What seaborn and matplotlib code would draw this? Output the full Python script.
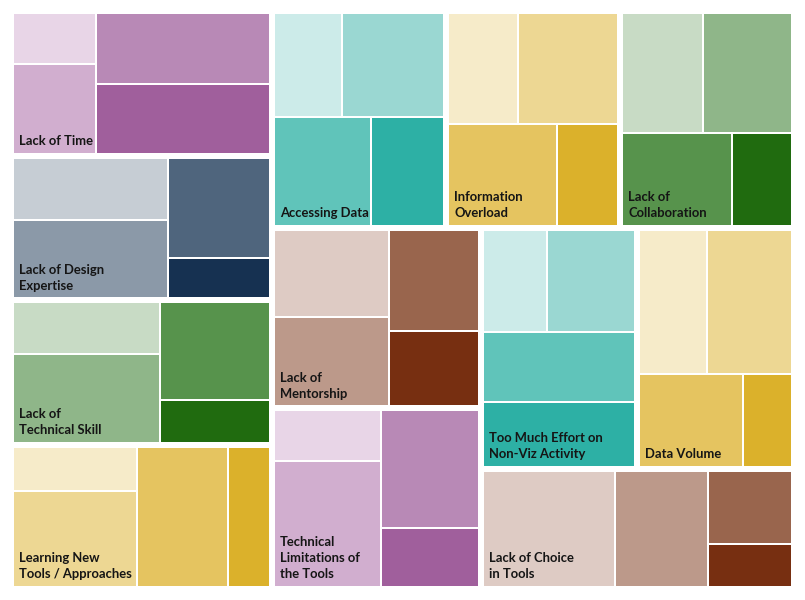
import matplotlib.pyplot as plt
from matplotlib.patches import Rectangle
import seaborn as sns

# Barriers (one tile group each), in the order they were laid out
barriers = [
    "Lack of Time", "Lack of Design\nExpertise", "Lack of\nTechnical Skill",
    "Learning New\nTools / Approaches", "Accessing Data", "Information\nOverload",
    "Lack of\nCollaboration", "Lack of\nMentorship", "Technical\nLimitations of\nthe Tools",
    "Too Much Effort on\nNon-Viz Activity", "Data Volume", "Lack of Choice\nin Tools",
]

# Share of responses (%) per level, lightest shade to darkest
level1 = [11.7, 26.7, 21.2, 15.3, 19.5, 21.4, 26.8, 27.8, 15.0, 18.1, 27.0, 42.8]
level2 = [20.6, 33.5, 36.0, 33.0, 29.3, 30.7, 29.5, 28.4, 37.3, 25.0, 33.9, 30.1]
level3 = [34.1, 28.4, 29.8, 35.4, 29.2, 30.7, 28.3, 25.1, 31.8, 29.6, 26.6, 17.1]
level4 = [33.6, 11.4, 13.0, 16.3, 22.0, 17.2, 15.4, 18.7, 15.9, 27.3, 12.5, 10.0]

group_palette = ["purple", "slate", "green", "gold", "teal", "gold",
                 "green", "brown", "purple", "teal", "gold", "brown"]

shades = {
    "purple": ["#E8D5E7", "#D1AECF", "#B889B6", "#A05F9C"],
    "slate": ["#C6CDD4", "#8B99A8", "#4F657D", "#163151"],
    "green": ["#C8DBC5", "#8FB689", "#57934C", "#206B0F"],
    "gold": ["#F6EBC9", "#EDD793", "#E5C460", "#DBB12B"],
    "teal": ["#CCEBE9", "#9AD7D2", "#60C4BA", "#2DB0A5"],
    "brown": ["#DECBC4", "#BC998A", "#99654D", "#772F11"],
}

PHI = (1 + 5 ** 0.5) / 2


def squarify(values, x0, y0, x1, y1, ratio=PHI):
    # same rules as d3.treemapSquarify (no sorting)
    rects = []
    n = len(values)
    total = sum(values)
    i0 = i1 = 0
    while i0 < n:
        dx, dy = x1 - x0, y1 - y0
        s = values[i1]
        i1 += 1
        lo = hi = s
        alpha = max(dy / dx, dx / dy) / (total * ratio)
        beta = s * s * alpha
        best = max(hi / beta, beta / lo)
        while i1 < n:
            v = values[i1]
            s2 = s + v
            lo2, hi2 = min(lo, v), max(hi, v)
            beta = s2 * s2 * alpha
            r = max(hi2 / beta, beta / lo2)
            if r > best:
                break
            s, lo, hi, best = s2, lo2, hi2, r
            i1 += 1
        row = values[i0:i1]
        if dx < dy:
            h = dy * s / total
            xx = x0
            for v in row:
                w = dx * v / s
                rects.append((xx, y0, xx + w, y0 + h))
                xx += w
            y0 += h
        else:
            w = dx * s / total
            yy = y0
            for v in row:
                h = dy * v / s
                rects.append((x0, yy, x0 + w, yy + h))
                yy += h
            x0 += w
        total -= s
        i0 = i1
    return rects


sns.set_theme(style="white")
plt.rcParams["font.family"] = ["Lato", "DejaVu Sans"]

fig = plt.figure(figsize=(8.05, 6.0), dpi=100)
ax = fig.add_axes([0, 0, 1, 1])
ax.set_xlim(0, 805)
ax.set_ylim(600, 0)
ax.axis("off")

groups = [list(v) for v in zip(level1, level2, level3, level4)]
group_rects = squarify([sum(g) for g in groups], 11, 11, 794, 589)

for label, vals, pal, (gx0, gy0, gx1, gy1) in zip(barriers, groups, group_palette, group_rects):
    kids = squarify(vals, gx0 + 2, gy0 + 2, gx1 - 2, gy1 - 2)
    for (x0, y0, x1, y1), color in zip(kids, shades[pal]):
        ax.add_patch(Rectangle((x0 + 1, y0 + 1), x1 - x0 - 2, y1 - y0 - 2,
                               facecolor=color, edgecolor="none"))
    lines = label.split("\n")
    base = gy1 - 3 - 7.5
    for i, line in enumerate(reversed(lines)):
        ax.text(gx0 + 8, base - i * 16, line, fontsize=9.4, fontweight="bold",
                color="#151515", ha="left", va="baseline")

fig.savefig("out.png", dpi=100)
